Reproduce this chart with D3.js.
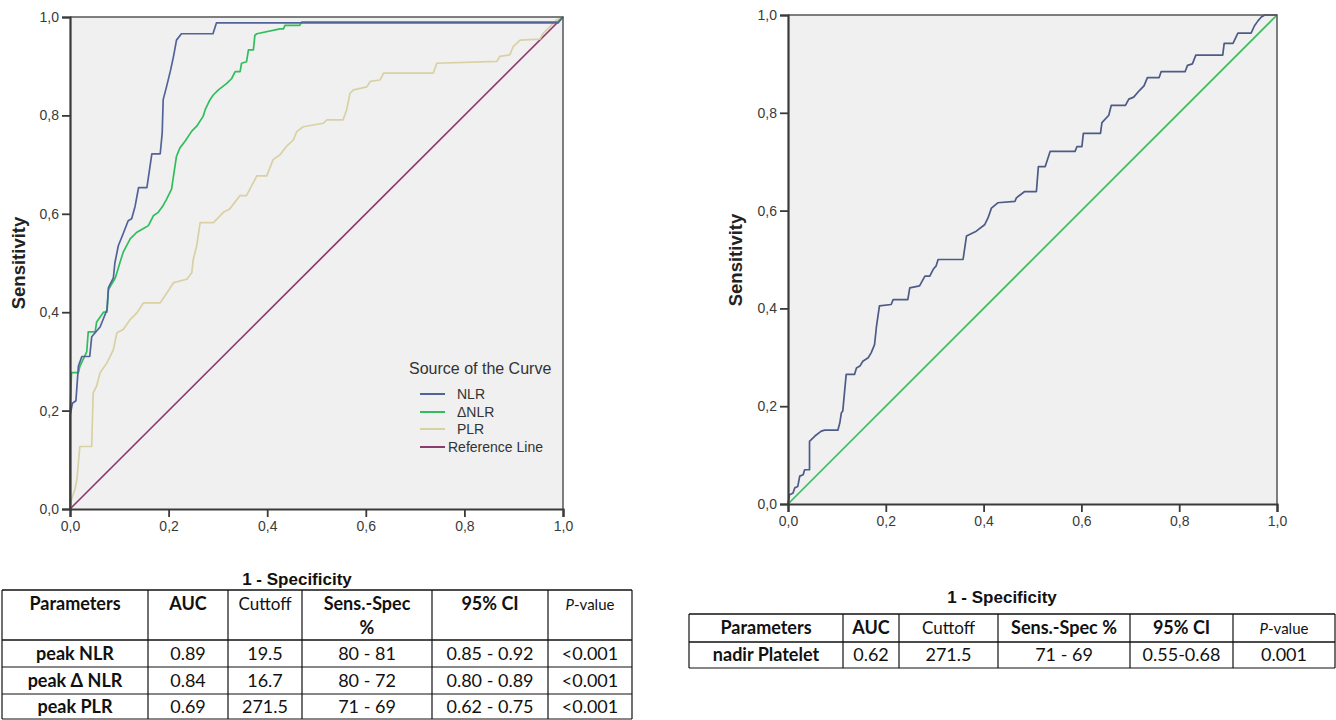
<!DOCTYPE html>
<html><head><meta charset="utf-8">
<script src="https://cdn.jsdelivr.net/npm/d3@7"></script>
<style>
html,body{margin:0;padding:0;background:#fff;}
svg{display:block;}
</style></head>
<body>
<svg id="chart" width="1336" height="720"></svg>
<script>
// ---------- DATA ----------
const tickValues = [0, 0.2, 0.4, 0.6, 0.8, 1.0];

const nlrFpr  = [0,0,0.005,0.012,0.017,0.024,0.04,0.044,0.061,0.075,0.078,0.088,0.091,0.098,0.108,0.118,0.125,0.132,0.139,0.156,0.166,0.183,0.187,0.189,0.196,0.204,0.21,0.216,0.226,0.29,0.297,0.99,1];
const nlrSens = [0,0.19,0.215,0.22,0.29,0.31,0.31,0.35,0.37,0.405,0.45,0.47,0.50,0.535,0.56,0.586,0.59,0.615,0.653,0.653,0.722,0.722,0.764,0.832,0.859,0.892,0.92,0.953,0.966,0.966,0.988,0.988,1];

const dnlrFpr  = [0,0,0.003,0.017,0.02,0.034,0.037,0.051,0.054,0.068,0.075,0.078,0.092,0.098,0.101,0.108,0.122,0.135,0.149,0.159,0.169,0.179,0.189,0.196,0.206,0.21,0.216,0.223,0.233,0.247,0.257,0.27,0.274,0.284,0.291,0.301,0.318,0.328,0.335,0.345,0.348,0.358,0.362,0.372,0.375,0.379,0.426,0.433,0.436,0.466,0.47,0.99,1];
const dnlrSens = [0,0.19,0.277,0.277,0.29,0.32,0.36,0.36,0.38,0.40,0.40,0.446,0.47,0.49,0.50,0.522,0.549,0.562,0.57,0.576,0.596,0.603,0.617,0.63,0.65,0.677,0.717,0.734,0.747,0.768,0.778,0.798,0.811,0.832,0.842,0.852,0.865,0.875,0.889,0.889,0.906,0.909,0.933,0.933,0.963,0.966,0.976,0.976,0.983,0.983,0.99,0.99,1];

const plrFpr  = [0,0.003,0.01,0.014,0.02,0.044,0.047,0.054,0.061,0.075,0.088,0.095,0.108,0.122,0.136,0.149,0.183,0.197,0.21,0.237,0.247,0.25,0.257,0.264,0.291,0.311,0.324,0.345,0.358,0.379,0.399,0.412,0.426,0.439,0.453,0.46,0.473,0.514,0.521,0.554,0.561,0.568,0.575,0.602,0.609,0.629,0.636,0.737,0.744,0.866,0.872,0.892,0.899,0.913,0.953,0.96,0.967,0.987,1];
const plrSens = [0,0.019,0.04,0.06,0.127,0.127,0.236,0.25,0.277,0.297,0.324,0.358,0.365,0.385,0.399,0.419,0.419,0.44,0.46,0.467,0.48,0.507,0.535,0.582,0.582,0.603,0.61,0.637,0.637,0.677,0.677,0.71,0.72,0.737,0.75,0.767,0.777,0.784,0.791,0.791,0.811,0.845,0.852,0.858,0.869,0.872,0.886,0.886,0.906,0.91,0.92,0.923,0.94,0.953,0.955,0.967,0.974,0.994,1];

const pltFpr  = [0,0.003,0.01,0.014,0.02,0.024,0.031,0.034,0.044,0.044,0.055,0.068,0.075,0.102,0.106,0.109,0.112,0.119,0.136,0.14,0.147,0.153,0.164,0.17,0.177,0.181,0.187,0.211,0.215,0.245,0.249,0.269,0.28,0.29,0.297,0.303,0.307,0.358,0.365,0.385,0.402,0.409,0.416,0.429,0.464,0.467,0.484,0.508,0.512,0.526,0.536,0.587,0.591,0.601,0.604,0.639,0.642,0.656,0.661,0.69,0.697,0.707,0.718,0.728,0.735,0.759,0.763,0.812,0.817,0.827,0.834,0.889,0.892,0.91,0.92,0.947,0.954,0.961,0.968,0.975,1];
const pltSens = [0,0.019,0.022,0.033,0.036,0.057,0.06,0.07,0.07,0.128,0.139,0.149,0.151,0.151,0.166,0.186,0.19,0.265,0.265,0.278,0.282,0.292,0.299,0.309,0.326,0.364,0.405,0.408,0.418,0.418,0.442,0.446,0.466,0.466,0.48,0.487,0.5,0.5,0.548,0.558,0.571,0.585,0.605,0.616,0.619,0.626,0.639,0.639,0.69,0.69,0.721,0.721,0.731,0.731,0.758,0.758,0.78,0.795,0.815,0.815,0.828,0.832,0.845,0.855,0.872,0.872,0.884,0.884,0.897,0.9,0.918,0.918,0.942,0.942,0.963,0.963,0.978,0.988,0.996,1.0,1];

const refFpr  = [0, 1];
const refSens = [0, 1];

const legendLabels = ["NLR", "\u0394NLR", "PLR", "Reference Line"];

const tableHeaders = ["Parameters", "AUC", "Cuttoff", "Sens.-Spec %", "95% CI", "P-value"];
const leftParams   = ["peak NLR", "peak \u0394 NLR", "peak PLR"];
const leftAUC      = ["0.89", "0.84", "0.69"];
const leftCutoff   = ["19.5", "16.7", "271.5"];
const leftSensSpec = ["80 - 81", "80 - 72", "71 - 69"];
const leftCI       = ["0.85 - 0.92", "0.80 - 0.89", "0.62 - 0.75"];
const leftP        = ["<0.001", "<0.001", "<0.001"];

const rightParams   = ["nadir Platelet"];
const rightAUC      = ["0.62"];
const rightCutoff   = ["271.5"];
const rightSensSpec = ["71 - 69"];
const rightCI       = ["0.55-0.68"];
const rightP        = ["0.001"];

// ---------- DRAW ----------
const svg = d3.select("#chart");
const chartFont = "'Liberation Sans', Arial, sans-serif";
const tableFont = "Lato, 'Open Sans', sans-serif";
const fmt = d => d3.format(".1f")(d).replace(".", ",");

function drawPlot(box, series) {
  const x = d3.scaleLinear().domain([0, 1]).range([box.x0, box.x1]);
  const y = d3.scaleLinear().domain([0, 1]).range([box.y1, box.y0]);
  const g = svg.append("g");
  g.append("rect").attr("x", box.x0).attr("y", box.y0)
    .attr("width", box.x1 - box.x0).attr("height", box.y1 - box.y0)
    .attr("fill", "#f0f0f0");
  const line = d3.line().x(d => x(d[0])).y(d => y(d[1]));
  series.forEach(s => {
    const pts = s.fpr.map((f, i) => [f, s.sens[i]]);
    g.append("path").attr("d", line(pts)).attr("fill", "none")
      .attr("stroke", s.color).attr("stroke-width", s.width || 1.7)
      .attr("stroke-linejoin", "round");
  });
  g.append("path")
    .attr("d", `M${box.x0},${box.y0}H${box.x1}V${box.y1}`)
    .attr("fill", "none").attr("stroke", "#555").attr("stroke-width", 1.5);
  const yAxis = d3.axisLeft(y).tickValues(tickValues).tickFormat(fmt).tickSize(8).tickPadding(3);
  const xAxis = d3.axisBottom(x).tickValues(tickValues).tickFormat(fmt).tickSize(8).tickPadding(4);
  const ya = g.append("g").attr("transform", `translate(${box.x0},0)`).call(yAxis);
  const xa = g.append("g").attr("transform", `translate(0,${box.y1})`).call(xAxis);
  [ya, xa].forEach(a => {
    a.select(".domain").attr("stroke", "#3a3a3a").attr("stroke-width", 2.2);
    a.selectAll(".tick line").attr("stroke", "#3a3a3a").attr("stroke-width", 1.8);
    a.selectAll(".tick text").attr("fill", "#3a3a3a")
      .style("font-family", chartFont).style("font-size", "14px");
  });
  return {x, y, g};
}

const leftBox  = {x0: 70,  x1: 563,  y0: 17, y1: 509};
const rightBox = {x0: 788, x1: 1277, y0: 15, y1: 504};

const colNLR = "#52639a", colDNLR = "#2fbf5a", colPLR = "#d9d0a3", colRef = "#8c3b6e";

drawPlot(leftBox, [
  {fpr: refFpr, sens: refSens, color: colRef},
  {fpr: plrFpr, sens: plrSens, color: colPLR},
  {fpr: dnlrFpr, sens: dnlrSens, color: colDNLR},
  {fpr: nlrFpr, sens: nlrSens, color: colNLR}
]);

drawPlot(rightBox, [
  {fpr: refFpr, sens: refSens, color: "#3fbb5e"},
  {fpr: pltFpr, sens: pltSens, color: "#4d5b86"}
]);

[[25, 263], [742, 260]].forEach(([cx, cy]) => {
  svg.append("text").attr("transform", `translate(${cx},${cy}) rotate(-90)`)
    .attr("text-anchor", "middle").style("font-family", chartFont)
    .style("font-weight", "bold").style("font-size", "18.5px").attr("fill", "#222")
    .text("Sensitivity");
});

const lg = svg.append("g");
lg.append("text").attr("x", 409).attr("y", 374).style("font-family", chartFont)
  .style("font-size", "16px").attr("fill", "#333").text("Source of the Curve");
const legColors = [colNLR, colDNLR, colPLR, colRef];
const legY = [394, 412, 429, 447];
legendLabels.forEach((lab, i) => {
  lg.append("line").attr("x1", 420).attr("x2", 445).attr("y1", legY[i]).attr("y2", legY[i])
    .attr("stroke", legColors[i]).attr("stroke-width", 2);
  lg.append("text").attr("x", i === 3 ? 448 : 457).attr("y", legY[i] + 5)
    .style("font-family", chartFont).style("font-size", "14px").attr("fill", "#333").text(lab);
});

svg.append("text").attr("x", 297).attr("y", 585).attr("text-anchor", "middle")
  .style("font-family", chartFont).style("font-weight", "bold").style("font-size", "17px")
  .attr("fill", "#111").text("1 - Specificity");
svg.append("text").attr("x", 1002).attr("y", 603).attr("text-anchor", "middle")
  .style("font-family", chartFont).style("font-weight", "bold").style("font-size", "17px")
  .attr("fill", "#111").text("1 - Specificity");

function drawTable(xs, ys, rows, twoLineHeader) {
  const g = svg.append("g");
  xs.forEach(xv => g.append("line").attr("x1", xv).attr("x2", xv)
    .attr("y1", ys[0]).attr("y2", ys[ys.length - 1]).attr("stroke", "#111").attr("stroke-width", 1.2));
  ys.forEach((yv, i) => g.append("line").attr("x1", xs[0]).attr("x2", xs[xs.length - 1])
    .attr("y1", yv).attr("y2", yv).attr("stroke", "#111").attr("stroke-width", (i === 0 || i === 1) ? 1.6 : 1.2));
  const cx = i => (xs[i] + xs[i + 1]) / 2;
  const hy = ys[0] + 20;
  tableHeaders.forEach((h, i) => {
    const t = g.append("text").attr("x", cx(i)).attr("y", hy).attr("text-anchor", "middle")
      .style("font-family", tableFont).attr("fill", "#111");
    if (i === 2) {
      t.style("font-size", "17px").text(h);
    } else if (i === 5) {
      t.style("font-size", "15px");
      t.append("tspan").style("font-style", "italic").text("P");
      t.append("tspan").text("-value");
    } else if (i === 3 && twoLineHeader) {
      t.style("font-size", "18px").style("font-weight", "bold").text("Sens.-Spec");
      g.append("text").attr("x", cx(i)).attr("y", hy + 24).attr("text-anchor", "middle")
        .style("font-family", tableFont).style("font-size", "18px").style("font-weight", "bold")
        .attr("fill", "#111").text("%");
    } else {
      t.style("font-size", "18px").style("font-weight", "bold").text(h);
    }
  });
  rows.forEach((r, ri) => {
    const ry = ys[ri + 1] + (ys[ri + 2] - ys[ri + 1]) / 2 + 6;
    r.forEach((v, ci) => {
      g.append("text").attr("x", cx(ci)).attr("y", ry).attr("text-anchor", "middle")
        .style("font-family", tableFont).style("font-size", "18px")
        .style("font-weight", ci === 0 ? "bold" : "normal").attr("fill", "#111").text(v);
    });
  });
}

const leftRows = leftParams.map((p, i) => [p, leftAUC[i], leftCutoff[i], leftSensSpec[i], leftCI[i], leftP[i]]);
drawTable([2, 148, 228, 302, 432, 548, 632], [590, 640, 667, 694, 719], leftRows, true);

const rightRows = rightParams.map((p, i) => [p, rightAUC[i], rightCutoff[i], rightSensSpec[i], rightCI[i], rightP[i]]);
drawTable([689, 843, 899, 998, 1130, 1233, 1335], [614, 642, 668], rightRows, false);
</script>
</body></html>
